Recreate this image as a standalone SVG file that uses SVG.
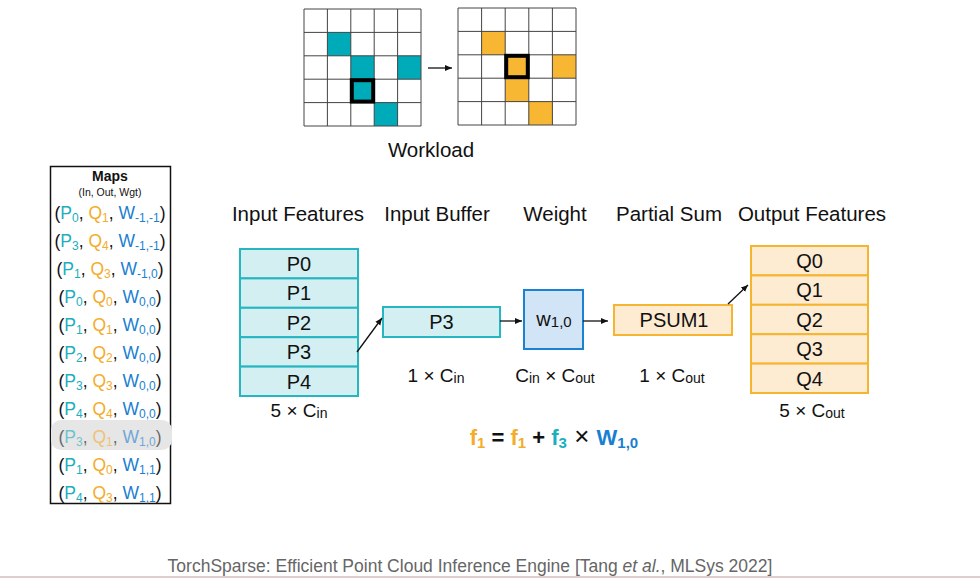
<svg xmlns="http://www.w3.org/2000/svg" width="980" height="578" viewBox="0 0 980 578">
<style>
text{font-family:"Liberation Sans",Arial,sans-serif;fill:#111}
.hdr{font-size:20.5px;text-anchor:middle}
.cell{font-size:20px;text-anchor:middle}
.dim{font-size:19px;text-anchor:middle}
.sub{font-size:12px}
.ds{font-size:14px}
.row{font-size:17.5px;text-anchor:middle}
.t{fill:#1aaebe}.o{fill:#f3ad2a}.b{fill:#1a7fd0}
.gl{stroke:#444;stroke-width:1;fill:none}
.inF{fill:#d3eff1;stroke:#25b6c2;stroke-width:2}
.outF{fill:#fdebd2;stroke:#f5b531;stroke-width:2}
.wF{fill:#d2e5f6;stroke:#1a82d2;stroke-width:2}
.conn{stroke:#111;stroke-width:1.3;fill:none;marker-end:url(#ah)}
</style>
<defs>
<marker id="ah" markerWidth="8" markerHeight="8" refX="7" refY="4" orient="auto" markerUnits="userSpaceOnUse">
<path d="M0,1 L7,4 L0,7 Z" fill="#111"/>
</marker>
</defs>
<rect width="980" height="578" fill="#fff"/>

<g id="workload-left">
<rect x="327.4" y="32.4" width="23.4" height="23.4" fill="#00abb9"/>
<rect x="350.8" y="55.8" width="23.4" height="23.4" fill="#00abb9"/>
<rect x="397.6" y="55.8" width="23.4" height="23.4" fill="#00abb9"/>
<rect x="350.8" y="79.2" width="23.4" height="23.4" fill="#00abb9"/>
<rect x="374.2" y="102.6" width="23.4" height="23.4" fill="#00abb9"/>
<path class="gl" d="M304,9H421M304,32.4H421M304,55.8H421M304,79.2H421M304,102.6H421M304,126H421M304,9V126M327.4,9V126M350.8,9V126M374.2,9V126M397.6,9V126M421,9V126"/>
<rect x="351.8" y="80.2" width="21.4" height="21.4" fill="none" stroke="#000" stroke-width="4"/>
</g>
<g id="workload-right">
<rect x="481.6" y="31.4" width="23.6" height="23.4" fill="#f7b732"/>
<rect x="505.2" y="54.8" width="23.6" height="23.4" fill="#f7b732"/>
<rect x="552.4" y="54.8" width="23.6" height="23.4" fill="#f7b732"/>
<rect x="505.2" y="78.2" width="23.6" height="23.4" fill="#f7b732"/>
<rect x="528.8" y="101.6" width="23.6" height="23.4" fill="#f7b732"/>
<path class="gl" d="M458,8H576M458,31.4H576M458,54.8H576M458,78.2H576M458,101.6H576M458,125H576M458,8V125M481.6,8V125M505.2,8V125M528.8,8V125M552.4,8V125M576,8V125"/>
<rect x="506.2" y="55.8" width="21.6" height="21.4" fill="none" stroke="#000" stroke-width="4"/>
</g>
<text x="431" y="157" class="hdr">Workload</text>

<g id="maps">
<rect x="50.5" y="166.5" width="120" height="337" fill="#fff" stroke="#111" stroke-width="1.5"/>
<rect x="51" y="420" width="121" height="30" rx="10" fill="#e6e6e6"/>
<text x="110" y="181" style="font-size:14px;font-weight:bold;text-anchor:middle">Maps</text>
<text x="110" y="196" style="font-size:10.5px;text-anchor:middle">(In, Out, Wgt)</text>
<text x="110" y="219" class="row">(<tspan class="t">P<tspan class="sub" dy="3">0</tspan></tspan><tspan dy="-3">, </tspan><tspan class="o">Q<tspan class="sub" dy="3">1</tspan></tspan><tspan dy="-3">, </tspan><tspan class="b">W<tspan class="sub" dy="3">-1,-1</tspan></tspan><tspan dy="-3">)</tspan></text>
<text x="110" y="247" class="row">(<tspan class="t">P<tspan class="sub" dy="3">3</tspan></tspan><tspan dy="-3">, </tspan><tspan class="o">Q<tspan class="sub" dy="3">4</tspan></tspan><tspan dy="-3">, </tspan><tspan class="b">W<tspan class="sub" dy="3">-1,-1</tspan></tspan><tspan dy="-3">)</tspan></text>
<text x="110" y="275" class="row">(<tspan class="t">P<tspan class="sub" dy="3">1</tspan></tspan><tspan dy="-3">, </tspan><tspan class="o">Q<tspan class="sub" dy="3">3</tspan></tspan><tspan dy="-3">, </tspan><tspan class="b">W<tspan class="sub" dy="3">-1,0</tspan></tspan><tspan dy="-3">)</tspan></text>
<text x="110" y="303" class="row">(<tspan class="t">P<tspan class="sub" dy="3">0</tspan></tspan><tspan dy="-3">, </tspan><tspan class="o">Q<tspan class="sub" dy="3">0</tspan></tspan><tspan dy="-3">, </tspan><tspan class="b">W<tspan class="sub" dy="3">0,0</tspan></tspan><tspan dy="-3">)</tspan></text>
<text x="110" y="331" class="row">(<tspan class="t">P<tspan class="sub" dy="3">1</tspan></tspan><tspan dy="-3">, </tspan><tspan class="o">Q<tspan class="sub" dy="3">1</tspan></tspan><tspan dy="-3">, </tspan><tspan class="b">W<tspan class="sub" dy="3">0,0</tspan></tspan><tspan dy="-3">)</tspan></text>
<text x="110" y="359" class="row">(<tspan class="t">P<tspan class="sub" dy="3">2</tspan></tspan><tspan dy="-3">, </tspan><tspan class="o">Q<tspan class="sub" dy="3">2</tspan></tspan><tspan dy="-3">, </tspan><tspan class="b">W<tspan class="sub" dy="3">0,0</tspan></tspan><tspan dy="-3">)</tspan></text>
<text x="110" y="387" class="row">(<tspan class="t">P<tspan class="sub" dy="3">3</tspan></tspan><tspan dy="-3">, </tspan><tspan class="o">Q<tspan class="sub" dy="3">3</tspan></tspan><tspan dy="-3">, </tspan><tspan class="b">W<tspan class="sub" dy="3">0,0</tspan></tspan><tspan dy="-3">)</tspan></text>
<text x="110" y="415" class="row">(<tspan class="t">P<tspan class="sub" dy="3">4</tspan></tspan><tspan dy="-3">, </tspan><tspan class="o">Q<tspan class="sub" dy="3">4</tspan></tspan><tspan dy="-3">, </tspan><tspan class="b">W<tspan class="sub" dy="3">0,0</tspan></tspan><tspan dy="-3">)</tspan></text>
<text x="110" y="443" class="row" opacity="0.6">(<tspan class="t">P<tspan class="sub" dy="3">3</tspan></tspan><tspan dy="-3">, </tspan><tspan class="o">Q<tspan class="sub" dy="3">1</tspan></tspan><tspan dy="-3">, </tspan><tspan class="b">W<tspan class="sub" dy="3">1,0</tspan></tspan><tspan dy="-3">)</tspan></text>
<text x="110" y="471" class="row">(<tspan class="t">P<tspan class="sub" dy="3">1</tspan></tspan><tspan dy="-3">, </tspan><tspan class="o">Q<tspan class="sub" dy="3">0</tspan></tspan><tspan dy="-3">, </tspan><tspan class="b">W<tspan class="sub" dy="3">1,1</tspan></tspan><tspan dy="-3">)</tspan></text>
<text x="110" y="499" class="row">(<tspan class="t">P<tspan class="sub" dy="3">4</tspan></tspan><tspan dy="-3">, </tspan><tspan class="o">Q<tspan class="sub" dy="3">3</tspan></tspan><tspan dy="-3">, </tspan><tspan class="b">W<tspan class="sub" dy="3">1,1</tspan></tspan><tspan dy="-3">)</tspan></text>
</g>

<text x="298" y="221" class="hdr">Input Features</text>
<text x="437" y="221" class="hdr">Input Buffer</text>
<text x="555" y="221" class="hdr">Weight</text>
<text x="669" y="221" class="hdr">Partial Sum</text>
<text x="812" y="221" class="hdr">Output Features</text>

<g id="input-features">
<rect x="240" y="249" width="118" height="29.4" class="inF"/>
<rect x="240" y="278.4" width="118" height="29.4" class="inF"/>
<rect x="240" y="307.8" width="118" height="29.4" class="inF"/>
<rect x="240" y="337.2" width="118" height="29.4" class="inF"/>
<rect x="240" y="366.6" width="118" height="29.4" class="inF"/>
<text x="299" y="271" class="cell">P0</text>
<text x="299" y="300.4" class="cell">P1</text>
<text x="299" y="329.8" class="cell">P2</text>
<text x="299" y="359.2" class="cell">P3</text>
<text x="299" y="388.6" class="cell">P4</text>
<text x="299" y="417" class="dim">5 × C<tspan class="ds" dy="1">in</tspan></text>
</g>

<g id="input-buffer">
<rect x="383" y="307" width="117" height="30" class="inF"/>
<text x="441.5" y="329" class="cell">P3</text>
<text x="436" y="382" class="dim">1 × C<tspan class="ds" dy="1">in</tspan></text>
</g>

<g id="weight">
<rect x="524" y="290" width="59" height="59" class="wF"/>
<text x="554" y="326" style="font-size:20px;text-anchor:middle">w<tspan font-size="15px" dy="1">1,0</tspan></text>
<text x="555" y="382" class="dim">C<tspan class="ds" dy="1">in</tspan><tspan dy="-1"> × C</tspan><tspan class="ds" dy="1">out</tspan></text>
</g>

<g id="partial-sum">
<rect x="614" y="305" width="118" height="30" class="outF"/>
<text x="674" y="327" class="cell">PSUM1</text>
<text x="672" y="382" class="dim">1 × C<tspan class="ds" dy="1">out</tspan></text>
</g>

<g id="output-features">
<rect x="751" y="246" width="117" height="29.4" class="outF"/>
<rect x="751" y="275.4" width="117" height="29.4" class="outF"/>
<rect x="751" y="304.8" width="117" height="29.4" class="outF"/>
<rect x="751" y="334.2" width="117" height="29.4" class="outF"/>
<rect x="751" y="363.6" width="117" height="29.4" class="outF"/>
<text x="809.5" y="268" class="cell">Q0</text>
<text x="809.5" y="297.4" class="cell">Q1</text>
<text x="809.5" y="326.8" class="cell">Q2</text>
<text x="809.5" y="356.2" class="cell">Q3</text>
<text x="809.5" y="385.6" class="cell">Q4</text>
<text x="812" y="417" class="dim">5 × C<tspan class="ds" dy="1">out</tspan></text>
</g>

<g id="connectors">
<line x1="428" y1="68" x2="452" y2="68" class="conn"/>
<line x1="357" y1="352" x2="382" y2="318" class="conn"/>
<line x1="500" y1="321" x2="522" y2="321" class="conn"/>
<line x1="583" y1="321" x2="608" y2="321" class="conn"/>
<line x1="728" y1="304" x2="748" y2="285" class="conn"/>
</g>

<text x="554" y="445" style="font-size:22px;font-weight:bold;text-anchor:middle"><tspan class="o">f<tspan font-size="15px" dy="3">1</tspan></tspan><tspan dy="-3"> = </tspan><tspan class="o">f<tspan font-size="15px" dy="3">1</tspan></tspan><tspan dy="-3"> + </tspan><tspan class="t">f<tspan font-size="15px" dy="3">3</tspan></tspan><tspan dy="-3" font-weight="normal" font-size="26px"> × </tspan><tspan class="b">W<tspan font-size="15px" dy="3">1,0</tspan></tspan></text>

<text x="470" y="572" style="font-size:17.5px;fill:#666;text-anchor:middle">TorchSparse: Efficient Point Cloud Inference Engine [Tang <tspan font-style="italic">et al.</tspan>, MLSys 2022]</text>
<line x1="0" y1="577" x2="980" y2="577" stroke="#d8bcbc" stroke-width="1.5"/>
</svg>
